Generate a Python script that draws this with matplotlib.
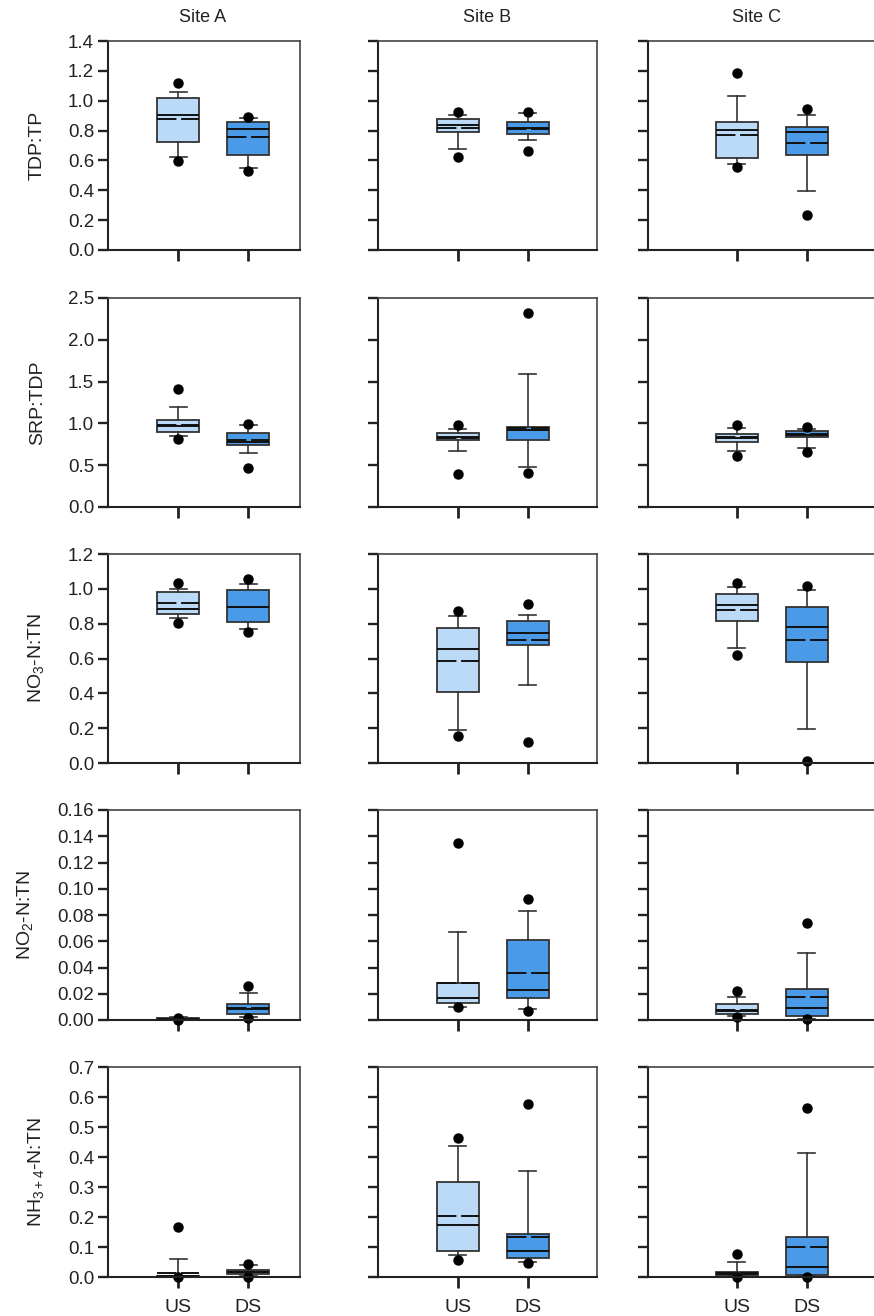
import matplotlib
matplotlib.use("Agg")
import matplotlib.pyplot as plt
from matplotlib.ticker import MultipleLocator, FormatStrFormatter

plt.rcParams["font.family"] = ["Liberation Sans", "DejaVu Sans"]
plt.rcParams["mathtext.fontset"] = "custom"
plt.rcParams["mathtext.rm"] = "Liberation Sans"
plt.rcParams["mathtext.default"] = "regular"

# Data: each row is one variable, boxes ordered A-US, A-DS, B-US, B-DS, C-US, C-DS
sites = ["Site A", "Site B", "Site C"]
groups = ["US", "DS"]
ylabels = ["TDP:TP", "SRP:TDP", "NO$_3$-N:TN", "NO$_2$-N:TN", "NH$_{3+4}$-N:TN"]
ymax = [1.4, 2.5, 1.2, 0.16, 0.7]
ystep = [0.2, 0.5, 0.2, 0.02, 0.1]
yfmt = ["%.1f", "%.1f", "%.1f", "%.2f", "%.1f"]

q1 = [
    [0.725, 0.638, 0.792, 0.777, 0.616, 0.638],
    [0.897, 0.744, 0.800, 0.800, 0.773, 0.832],
    [0.856, 0.808, 0.407, 0.678, 0.816, 0.579],
    [0.0004, 0.0043, 0.0132, 0.0168, 0.0046, 0.003],
    [0.001, 0.011, 0.088, 0.063, 0.0066, 0.0066],
]
med = [
    [0.904, 0.810, 0.839, 0.815, 0.804, 0.792],
    [0.97, 0.772, 0.84, 0.924, 0.83, 0.864],
    [0.885, 0.894, 0.657, 0.747, 0.906, 0.782],
    [0.0008, 0.0082, 0.0165, 0.0231, 0.0066, 0.0091],
    [0.002, 0.017, 0.173, 0.088, 0.010, 0.032],
]
q3 = [
    [1.016, 0.855, 0.875, 0.857, 0.857, 0.824],
    [1.045, 0.888, 0.891, 0.956, 0.876, 0.904],
    [0.981, 0.995, 0.774, 0.818, 0.969, 0.898],
    [0.0012, 0.0119, 0.0279, 0.0607, 0.0122, 0.0239],
    [0.004, 0.024, 0.317, 0.145, 0.0166, 0.132],
]
mean = [
    [0.875, 0.759, 0.817, 0.810, 0.768, 0.719],
    [0.98, 0.80, 0.83, 0.94, 0.84, 0.87],
    [0.916, 0.898, 0.587, 0.705, 0.877, 0.705],
    [0.0009, 0.0091, 0.0284, 0.0361, 0.0076, 0.0175],
    [0.015, 0.018, 0.205, 0.132, 0.012, 0.100],
]
whislo = [
    [0.625, 0.551, 0.674, 0.737, 0.574, 0.395],
    [0.848, 0.644, 0.672, 0.48, 0.672, 0.704],
    [0.835, 0.77, 0.191, 0.449, 0.663, 0.198],
    [0.0, 0.002, 0.0101, 0.0082, 0.003, 0.001],
    [0.0, 0.003, 0.072, 0.050, 0.002, 0.003],
]
whishi = [
    [1.060, 0.882, 0.904, 0.916, 1.034, 0.906],
    [1.196, 0.976, 0.93, 1.588, 0.948, 0.932],
    [1.001, 1.03, 0.843, 0.85, 1.011, 0.995],
    [0.002, 0.0203, 0.067, 0.0828, 0.0175, 0.0513],
    [0.06, 0.04, 0.437, 0.353, 0.0485, 0.413],
]
out_lo = [
    [0.598, 0.529, 0.621, 0.665, 0.558, 0.232],
    [0.808, 0.464, 0.389, 0.408, 0.608, 0.652],
    [0.803, 0.753, 0.157, 0.12, 0.621, 0.011],
    [0.0, 0.0015, 0.0097, 0.0071, 0.002, 0.0005],
    [0.0, 0.001, 0.057, 0.0465, 0.0, 0.0],
]
out_hi = [
    [1.12, 0.889, 0.922, 0.924, 1.186, 0.942],
    [1.408, 0.996, 0.976, 2.32, 0.976, 0.952],
    [1.032, 1.055, 0.875, 0.915, 1.036, 1.017],
    [0.0018, 0.0261, 0.1346, 0.0919, 0.0224, 0.0737],
    [0.168, 0.045, 0.465, 0.578, 0.078, 0.564],
]

colors = ["#BBDAF7", "#4A9AE8"]
edge = "#333333"

W, H = 874, 1316
fig = plt.figure(figsize=(W / 100, H / 100), dpi=100)

# panel placement in pixels
col_left = [108, 378, 648]
col_right = [300, 597, 878]
col_us = [178.3, 457.7, 736.7]
row_top = [41, 298, 554, 810, 1067]
row_bot = [250, 507, 763, 1020, 1277]
px_per_unit = 70.0

for r in range(5):
    for c in range(3):
        L, R = col_left[c], col_right[c]
        T, B = row_top[r], row_bot[r]
        ax = fig.add_axes([L / W, 1 - B / H, (R - L) / W, (B - T) / H])

        stats = []
        for g in range(2):
            k = 2 * c + g
            stats.append(dict(
                med=med[r][k], q1=q1[r][k], q3=q3[r][k], mean=mean[r][k],
                whislo=whislo[r][k], whishi=whishi[r][k],
                fliers=[out_lo[r][k], out_hi[r][k]],
            ))
        bp = ax.bxp(stats, positions=[1, 2], widths=0.6, capwidths=0.25,
                    patch_artist=True, showmeans=True, meanline=True,
                    boxprops=dict(edgecolor=edge, linewidth=1.3),
                    medianprops=dict(color="#111111", linewidth=1.4),
                    meanprops=dict(color="#111111", linewidth=1.4,
                                   linestyle=(0, (10, 2.4))),
                    whiskerprops=dict(color=edge, linewidth=1.2),
                    capprops=dict(color=edge, linewidth=1.2),
                    flierprops=dict(marker="o", markerfacecolor="black",
                                    markeredgecolor="black", markersize=6.5))
        for patch, col in zip(bp["boxes"], colors):
            patch.set_facecolor(col)
        for key in bp:
            for art in bp[key]:
                art.set_clip_on(False)

        xmin = 1 - (col_us[c] - L) / px_per_unit
        ax.set_xlim(xmin, xmin + (R - L) / px_per_unit)
        ax.set_ylim(0, ymax[r])
        ax.yaxis.set_major_locator(MultipleLocator(ystep[r]))
        ax.yaxis.set_major_formatter(FormatStrFormatter(yfmt[r]))
        ax.set_xticks([1, 2])

        for sp in ax.spines.values():
            sp.set_color("#444444")
            sp.set_linewidth(1.2)
        ax.spines["left"].set_color("#222222")
        ax.spines["left"].set_linewidth(1.5)
        ax.spines["bottom"].set_color("#222222")
        ax.spines["bottom"].set_linewidth(1.5)

        ax.tick_params(axis="y", direction="out", length=7, width=1.7,
                       color="#222222", labelsize=13.5, labelcolor="#222222", pad=3)
        ax.tick_params(axis="x", direction="out", length=8, width=2,
                       color="#222222", labelsize=14, labelcolor="#222222", pad=8)

        if c == 0:
            ax.set_ylabel(ylabels[r], fontsize=14, color="#222222", labelpad=16)
        else:
            ax.set_yticklabels([])
        if r == 4:
            ax.set_xticklabels(groups)
        else:
            ax.set_xticklabels([])

title_x = [203, 487, 757]
for c in range(3):
    fig.text(title_x[c] / W, 1 - 17 / H, sites[c], ha="center", va="center",
             fontsize=13, color="#222222")

fig.savefig("out.png", dpi=100)
